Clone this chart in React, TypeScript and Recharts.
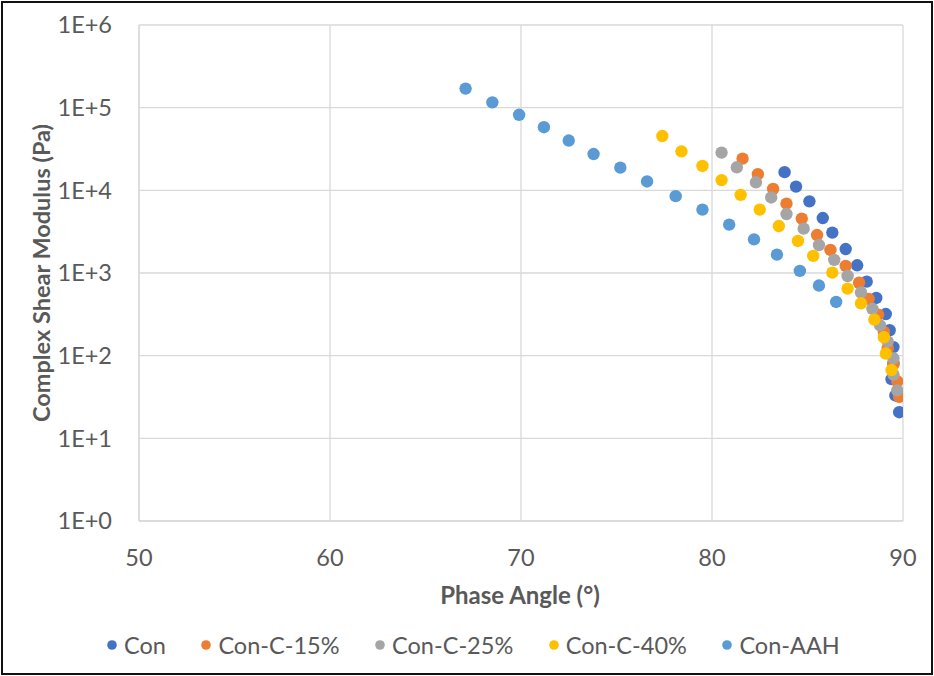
import React from 'react';
import { ScatterChart, Scatter, XAxis, YAxis, CartesianGrid, Legend } from 'recharts';

// phase angle (°) and complex shear modulus (Pa) per binder
const conPhase = [83.8, 84.4, 85.1, 85.8, 86.3, 87.0, 87.6, 88.1, 88.6, 89.1, 89.3, 89.5, 89.5, 89.4, 89.6, 89.8];
const conModulus = [16600, 11100, 7360, 4620, 3080, 1950, 1240, 787, 499, 319, 203, 127, 81, 52, 33, 20.7];

const c15Phase = [81.6, 82.4, 83.2, 83.9, 84.7, 85.5, 86.2, 87.0, 87.7, 88.2, 88.7, 89.0, 89.2, 89.5, 89.7, 89.8];
const c15Modulus = [24200, 15700, 10400, 6900, 4550, 2880, 1900, 1220, 762, 485, 314, 194, 123, 79, 49, 31.7];

const c25Phase = [80.5, 81.3, 82.3, 83.1, 83.9, 84.8, 85.6, 86.4, 87.1, 87.8, 88.4, 88.8, 89.2, 89.5, 89.5, 89.7];
const c25Modulus = [28600, 19000, 12500, 8200, 5170, 3440, 2180, 1440, 920, 581, 369, 233, 148, 93, 59, 38];

const c40Phase = [77.4, 78.4, 79.5, 80.5, 81.5, 82.5, 83.5, 84.5, 85.3, 86.3, 87.1, 87.8, 88.5, 89.0, 89.1, 89.4];
const c40Modulus = [45400, 29600, 19700, 13300, 8800, 5850, 3700, 2440, 1610, 1010, 648, 430, 273, 167, 106, 67];

const aahPhase = [67.1, 68.5, 69.9, 71.2, 72.5, 73.8, 75.2, 76.6, 78.1, 79.5, 80.9, 82.2, 83.4, 84.6, 85.6, 86.5];
const aahModulus = [170000, 116000, 82000, 58000, 40000, 27500, 18800, 12800, 8500, 5850, 3850, 2550, 1670, 1060, 705, 446];

const xTicks = [50, 60, 70, 80, 90];
const yTicks = [1, 10, 100, 1000, 10000, 100000, 1000000];

const toPoints = (xs: number[], ys: number[]) => xs.map((x, i) => ({ x, y: ys[i] }));

const series = [
  { name: 'Con', color: '#4472C4', data: toPoints(conPhase, conModulus) },
  { name: 'Con-C-15%', color: '#ED7D31', data: toPoints(c15Phase, c15Modulus) },
  { name: 'Con-C-25%', color: '#A5A5A5', data: toPoints(c25Phase, c25Modulus) },
  { name: 'Con-C-40%', color: '#FFC000', data: toPoints(c40Phase, c40Modulus) },
  { name: 'Con-AAH', color: '#5B9BD5', data: toPoints(aahPhase, aahModulus) },
];

const FONT = 'Lato, "Open Sans", sans-serif';
const TEXT = '#595959';
const GRID = '#d9d9d9';

const Dot = (color: string) => (props: any) => <circle cx={props.cx} cy={props.cy} r={6.2} fill={color} />;

const LegendRow = () => (
  <div style={{ display: 'flex', alignItems: 'center', height: 30, paddingLeft: 107, fontFamily: FONT, fontSize: 23.5, color: TEXT }}>
    {series.map((s) => (
      <div key={s.name} style={{ display: 'flex', alignItems: 'center', marginRight: 35.5 }}>
        <svg width={10} height={10} style={{ marginRight: 7 }}>
          <circle cx={5} cy={5} r={4.8} fill={s.color} />
        </svg>
        <span>{s.name}</span>
      </div>
    ))}
  </div>
);

export default function App() {
  return (
    <div style={{ position: 'absolute', left: 0, top: 0, width: 934, height: 676, background: '#fff' }}>
      <ScatterChart
        width={934}
        height={676}
        margin={{ top: 25, right: 31, bottom: 16, left: 0 }}
        style={{ fontFamily: FONT }}
      >
        <CartesianGrid stroke={GRID} strokeWidth={1.3} />
        <XAxis
          type="number"
          dataKey="x"
          domain={[50, 90]}
          ticks={xTicks}
          allowDataOverflow
          height={109}
          axisLine={{ stroke: GRID, strokeWidth: 1.3 }}
          tickLine={false}
          tickSize={0}
          tickMargin={28}
          tick={{ fill: TEXT, fontSize: 23.5 }}
          label={(p: any) => {
            const vb = p.viewBox;
            return (
              <text x={vb.x + vb.width / 2 - 1} y={vb.y + 73} textAnchor="middle" dominantBaseline="central" fill={TEXT} fontSize={24} fontWeight="bold">
                Phase Angle (°)
              </text>
            );
          }}
        />
        <YAxis
          type="number"
          dataKey="y"
          scale="log"
          domain={[1, 1000000]}
          ticks={yTicks}
          allowDataOverflow
          width={139}
          axisLine={{ stroke: GRID, strokeWidth: 1.3 }}
          tickLine={false}
          tickSize={0}
          tickMargin={27}
          tick={{ fill: TEXT, fontSize: 23.5 }}
          tickFormatter={(v: number) => `1E+${Math.round(Math.log10(v))}`}
          label={(p: any) => {
            const vb = p.viewBox;
            const cy = vb.y + vb.height / 2;
            return (
              <text x={41} y={cy} transform={`rotate(-90, 41, ${cy})`} textAnchor="middle" dominantBaseline="central" fill={TEXT} fontSize={23.5} fontWeight="bold">
                Complex Shear Modulus (Pa)
              </text>
            );
          }}
        />
        <Legend verticalAlign="bottom" content={() => <LegendRow />} wrapperStyle={{ left: 0, width: 934 }} />
        {series.map((s) => (
          <Scatter key={s.name} name={s.name} data={s.data} fill={s.color} shape={Dot(s.color)} isAnimationActive={false} />
        ))}
      </ScatterChart>
      <div
        style={{
          position: 'absolute',
          left: 1,
          top: 1,
          width: 932,
          height: 674,
          boxSizing: 'border-box',
          border: '2px solid #111',
          pointerEvents: 'none',
        }}
      />
    </div>
  );
}
